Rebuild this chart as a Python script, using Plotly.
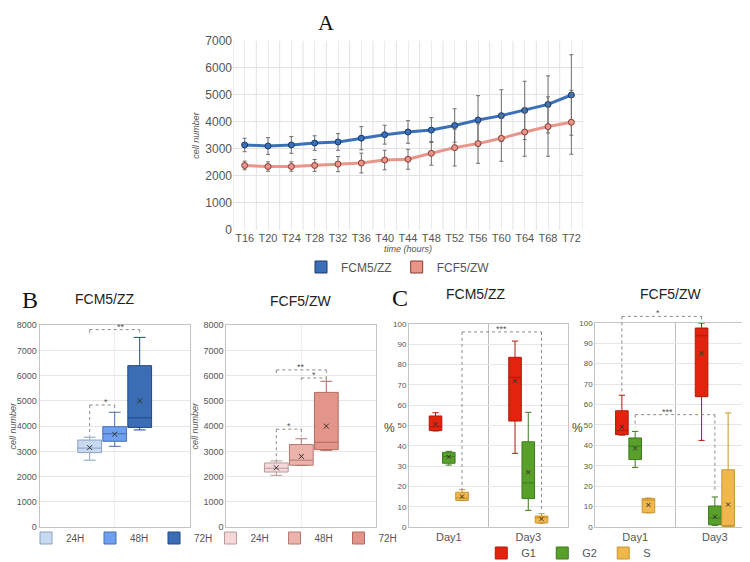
import plotly.graph_objects as go

# ---------------- data ----------------
times = ["T16", "T20", "T24", "T28", "T32", "T36", "T40", "T44", "T48", "T52", "T56", "T60", "T64", "T68", "T72"]
fcm_mean = [3150, 3110, 3150, 3220, 3260, 3400, 3530, 3630, 3700, 3870, 4075, 4235, 4430, 4650, 5000]
fcm_sd = [250, 310, 310, 270, 310, 430, 350, 420, 460, 620, 900, 960, 1080, 1060, 1490]
fcf_mean = [2390, 2350, 2350, 2390, 2440, 2480, 2590, 2620, 2840, 3050, 3200, 3395, 3630, 3830, 3990]
fcf_sd = [160, 175, 175, 220, 280, 365, 360, 370, 440, 680, 730, 850, 900, 1100, 1185]

hours = ["24H", "48H", "72H"]
# panel B  (q1, median, q3, lower whisker, upper whisker, mean)
fcm_q1 = [2950, 3400, 3950]
fcm_med = [3130, 3700, 4330]
fcm_q3 = [3450, 3980, 6400]
fcm_lo = [2650, 3200, 3850]
fcm_hi = [3560, 4550, 7520]
fcm_avg = [3150, 3680, 5000]

fcf_q1 = [2180, 2450, 3070]
fcf_med = [2330, 2650, 3360]
fcf_q3 = [2540, 3270, 5340]
fcf_lo = [2050, 2440, 3040]
fcf_hi = [2620, 3500, 5780]
fcf_avg = [2350, 2800, 4000]

# panel C
days = ["Day1", "Day3"]
phases = ["G1", "G2", "S"]
zz_q1 = {"G1": [47.5, 52.2], "G2": [31.4, 14.0], "S": [13.1, 2.0]}
zz_med = {"G1": [49.4, 73.7], "G2": [34.8, 21.7], "S": [14.3, 4.6]}
zz_q3 = {"G1": [54.7, 83.6], "G2": [36.8, 42.0], "S": [17.1, 5.4]}
zz_lo = {"G1": [47.3, 36.3], "G2": [30.5, 8.2], "S": [13.0, 1.8]}
zz_hi = {"G1": [56.3, 91.6], "G2": [37.3, 56.5], "S": [18.4, 6.6]}
zz_avg = {"G1": [50.7, 72.0], "G2": [34.5, 27.0], "S": [15.0, 4.0]}

zw_q1 = {"G1": [45.2, 63.8], "G2": [33.0, 1.1], "S": [7.0, 0.3]}
zw_med = {"G1": [47.3, 93.6], "G2": [39.6, 4.4], "S": [13.2, 0.6]}
zw_q3 = {"G1": [56.9, 97.4], "G2": [43.6, 10.3], "S": [13.9, 28.0]}
zw_lo = {"G1": [45.0, 42.4], "G2": [29.2, 0.8], "S": [6.9, 0.2]}
zw_hi = {"G1": [64.5, 99.8], "G2": [46.8, 14.7], "S": [14.2, 55.8]}
zw_avg = {"G1": [49.0, 85.0], "G2": [38.5, 5.0], "S": [10.8, 11.0]}

# significance brackets: (cat, group_a, group_b, top, leg_a, leg_b, label)
brk_bl = [(0, 0, 2, 7830, 7640, 7640, "**"), (0, 0, 1, 4840, 3600, 4530, "*")]
brk_br = [(0, 0, 2, 6230, 6020, 5900, "**"), (0, 1, 2, 5910, 5830, 5780, "*"),
          (0, 0, 1, 3880, 2630, 3600, "*")]
brk_cl = [((0, 2), (1, 2), 96.1, 18.4, 7.7, "***")]
brk_cr = [((0, 0), (1, 0), 103.1, 66.4, 101.5, "*"), ((0, 1), (1, 1), 55.0, 48.8, 18.0, "***")]

# ---------------- styling ----------------
FONT = "Liberation Sans, Arial, sans-serif"
SERIF = "Liberation Serif, Times New Roman, serif"
TXT = "#555555"
BOXGAP = 0.5
blue_fill = ["#c8d9f2", "#6e9ff0", "#3b6db5"]
blue_line = ["#8a9fc0", "#4a6fb0", "#1f4a85"]
red_fill = ["#f6d7da", "#ebb3aa", "#e3958b"]
red_line = ["#b89a9a", "#b07a72", "#b06a60"]
ph_fill = {"G1": "#e2230e", "G2": "#59a02b", "S": "#f0b84c"}
ph_line = {"G1": "#b01a08", "G2": "#3d7a1a", "S": "#c89530"}

DOM = {
    "A": ([0.300, 0.7667], [0.605, 0.9413], (0, 7000), 15),
    "BL": ([0.0422, 0.2423], [0.0765, 0.4354], (0, 8000), 1),
    "BR": ([0.2911, 0.4911], [0.0765, 0.4354], (0, 8000), 1),
    "CL": ([0.5347, 0.7467], [0.0765, 0.4377], (0, 100), 2),
    "CR": ([0.7831, 0.9956], [0.0765, 0.4400], (0, 100), 2),
}


def grp_off(i, n=3):
    return (1 - BOXGAP) * (-0.5 + (i + 0.5) / n)


def px(key, pos):
    xd, _, _, n = DOM[key]
    return xd[0] + (pos + 0.5) / n * (xd[1] - xd[0])


def py(key, v):
    _, yd, r, _ = DOM[key]
    return yd[0] + (v - r[0]) / (r[1] - r[0]) * (yd[1] - yd[0])


fig = go.Figure()

# ---------------- panel A ----------------
for name, m, sd, col, edge, lw in [("FCM5/ZZ", fcm_mean, fcm_sd, "#3a70b8", "#1a3a6a", 3),
                                   ("FCF5/ZW", fcf_mean, fcf_sd, "#e8958a", "#8a3a32", 3)]:
    fig.add_trace(go.Scatter(
        x=times, y=m, mode="lines+markers", name=name, showlegend=False,
        offsetgroup="a", xaxis="x", yaxis="y",
        line=dict(color=col, width=lw),
        marker=dict(size=6, color=col, line=dict(color=edge, width=1)),
        error_y=dict(type="data", array=sd, color="#707070", thickness=1, width=2)))
    fig.add_trace(go.Scatter(
        x=[None], y=[None], mode="markers", name=name, legend="legend",
        marker=dict(symbol="square", size=12, color=col, line=dict(color=edge, width=1))))

shapes = []
for i in range(len(times) + 1):
    shapes.append(dict(type="line", xref="x", yref="y", x0=i - 0.5, x1=i - 0.5, y0=0, y1=7000,
                       line=dict(color="#e2e2e2", width=1), layer="below"))

# ---------------- panel B ----------------
def add_b(xa, ya, title, q1, med, q3, lo, hi, avg, fills, lines, leg):
    for i, h in enumerate(hours):
        fig.add_trace(go.Box(
            x=[title], q1=[q1[i]], median=[med[i]], q3=[q3[i]],
            lowerfence=[lo[i]], upperfence=[hi[i]], name=h, offsetgroup=h,
            fillcolor=fills[i], line=dict(color=lines[i], width=1),
            xaxis=xa, yaxis=ya, legend=leg, boxpoints=False))
    for i, h in enumerate(hours):
        fig.add_trace(go.Scatter(
            x=[title], y=[avg[i]], mode="markers", offsetgroup=h, showlegend=False,
            xaxis=xa, yaxis=ya,
            marker=dict(symbol="x-thin", size=5, line=dict(color="#333333", width=1))))


add_b("x2", "y2", "FCM5/ZZ", fcm_q1, fcm_med, fcm_q3, fcm_lo, fcm_hi, fcm_avg,
      blue_fill, blue_line, "legend2")
add_b("x3", "y3", "FCF5/ZW", fcf_q1, fcf_med, fcf_q3, fcf_lo, fcf_hi, fcf_avg,
      red_fill, red_line, "legend3")

# ---------------- panel C ----------------
def add_c(xa, ya, q1, med, q3, lo, hi, avg, show):
    for p in phases:
        fig.add_trace(go.Box(
            x=days, q1=q1[p], median=med[p], q3=q3[p], lowerfence=lo[p], upperfence=hi[p],
            name=p, offsetgroup=p, fillcolor=ph_fill[p], line=dict(color=ph_line[p], width=1),
            xaxis=xa, yaxis=ya, legend="legend4", showlegend=show, boxpoints=False))
    for p in phases:
        fig.add_trace(go.Scatter(
            x=days, y=avg[p], mode="markers", offsetgroup=p, showlegend=False,
            xaxis=xa, yaxis=ya,
            marker=dict(symbol="x-thin", size=4, line=dict(color="#333333", width=1))))


add_c("x4", "y4", zz_q1, zz_med, zz_q3, zz_lo, zz_hi, zz_avg, True)
add_c("x5", "y5", zw_q1, zw_med, zw_q3, zw_lo, zw_hi, zw_avg, False)

# ---------------- brackets ----------------
annotations = []
BR_LINE = dict(color="#8a8a8a", width=1, dash="dot")


def bracket(key, xa_pos, xb_pos, top, la, lb, label):
    xa_p, xb_p = px(key, xa_pos), px(key, xb_pos)
    yt = py(key, top)
    shapes.append(dict(type="line", xref="paper", yref="paper", x0=xa_p, x1=xb_p, y0=yt, y1=yt, line=BR_LINE))
    shapes.append(dict(type="line", xref="paper", yref="paper", x0=xa_p, x1=xa_p, y0=yt, y1=py(key, la), line=BR_LINE))
    shapes.append(dict(type="line", xref="paper", yref="paper", x0=xb_p, x1=xb_p, y0=yt, y1=py(key, lb), line=BR_LINE))
    annotations.append(dict(xref="paper", yref="paper", x=(xa_p + xb_p) / 2, y=yt, yanchor="bottom",
                            text=label, showarrow=False, font=dict(size=9, color=TXT, family=FONT), yshift=-4))


for c, a, b, t, la, lb, lab in brk_bl:
    bracket("BL", c + grp_off(a), c + grp_off(b), t, la, lb, lab)
for c, a, b, t, la, lb, lab in brk_br:
    bracket("BR", c + grp_off(a), c + grp_off(b), t, la, lb, lab)
for (ca, ga), (cb, gb), t, la, lb, lab in brk_cl:
    bracket("CL", ca + grp_off(ga), cb + grp_off(gb), t, la, lb, lab)
for (ca, ga), (cb, gb), t, la, lb, lab in brk_cr:
    bracket("CR", ca + grp_off(ga), cb + grp_off(gb), t, la, lb, lab)

# ---------------- titles / letters ----------------
def txt(x, y, s, size, family=FONT, color="#222222"):
    annotations.append(dict(xref="paper", yref="paper", x=x / 750, y=1 - y / 562, text=s, showarrow=False,
                            font=dict(size=size, family=family, color=color),
                            xanchor="center", yanchor="middle"))


txt(318, 15, "A", 22, SERIF, "#111111")
txt(22, 292, "B", 24, SERIF, "#111111")
txt(392, 290, "C", 24, SERIF, "#111111")
txt(97, 291, "FCM5/ZZ", 14)
txt(292, 293, "FCF5/ZW", 14)
txt(468, 286, "FCM5/ZZ", 14)
txt(662, 286, "FCF5/ZW", 14)
txt(381, 420, "%", 12, FONT, "#444444")
txt(569, 420, "%", 12, FONT, "#444444")

# ---------------- axes ----------------
tickf = lambda s: dict(size=s, color=TXT, family=FONT)
GRID = "#e6e6e6"
FRAME = "#c4c4c4"
NOAM = dict(automargin=False)
CLEAR = "rgba(255,255,255,0)"

layout = dict(
    width=750, height=562, margin=dict(l=0, r=0, t=0, b=0, autoexpand=False),
    paper_bgcolor="white", plot_bgcolor="white",
    font=dict(family=FONT, color=TXT),
    boxmode="group", boxgap=BOXGAP, boxgroupgap=0.05,
    scattermode="group", scattergap=BOXGAP,
    shapes=shapes, annotations=annotations,
    xaxis=dict(domain=DOM["A"][0], anchor="y", type="category", tickfont=tickf(11),
               showgrid=True, gridcolor="#ececec", range=[-0.5, 14.5], **NOAM,
               title=dict(text="<i>time (hours)</i>", font=tickf(9), standoff=0)),
    yaxis=dict(domain=DOM["A"][1], anchor="x", range=[0, 7000], dtick=1000, tickfont=tickf(12),
               gridcolor="#e2e2e2", zeroline=False, **NOAM,
               title=dict(text="<i>cell number</i>", font=tickf(9), standoff=4)),
    xaxis2=dict(domain=DOM["BL"][0], anchor="y2", type="category", showticklabels=False,
                showgrid=True, gridcolor="#efefef", range=[-0.5, 0.5], **NOAM,
                showline=True, mirror=True, linecolor=FRAME),
    yaxis2=dict(domain=DOM["BL"][1], anchor="x2", range=[0, 8000], dtick=1000, tickfont=tickf(9),
                gridcolor=GRID, zeroline=False, showline=True, mirror=True, linecolor=FRAME, **NOAM,
                title=dict(text="<i>cell number</i>", font=tickf(9), standoff=3)),
    xaxis3=dict(domain=DOM["BR"][0], anchor="y3", type="category", showticklabels=False,
                showgrid=True, gridcolor="#efefef", range=[-0.5, 0.5], **NOAM,
                showline=True, mirror=True, linecolor=FRAME),
    yaxis3=dict(domain=DOM["BR"][1], anchor="x3", range=[0, 8000], dtick=1000, tickfont=tickf(9),
                gridcolor=GRID, zeroline=False, showline=True, mirror=True, linecolor=FRAME, **NOAM,
                title=dict(text="<i>cell number</i>", font=tickf(9), standoff=3)),
    xaxis4=dict(domain=DOM["CL"][0], anchor="y4", type="category", tickfont=tickf(11),
                showgrid=True, tickson="boundaries", ticklen=0, gridcolor="#bdbdbd", **NOAM,
                range=[-0.5, 1.5], showline=True, mirror=True, linecolor=FRAME),
    yaxis4=dict(domain=DOM["CL"][1], anchor="x4", range=[0, 100], dtick=10, tickfont=tickf(8),
                gridcolor=GRID, zeroline=False, showline=True, mirror=True, linecolor=FRAME, **NOAM),
    xaxis5=dict(domain=DOM["CR"][0], anchor="y5", type="category", tickfont=tickf(11),
                showgrid=True, tickson="boundaries", ticklen=0, gridcolor="#bdbdbd", **NOAM,
                range=[-0.5, 1.5], showline=True, mirror=True, linecolor=FRAME),
    yaxis5=dict(domain=DOM["CR"][1], anchor="x5", range=[0, 100], dtick=10, tickfont=tickf(8),
                gridcolor=GRID, zeroline=False, showline=True, mirror=True, linecolor=FRAME, **NOAM),
    legend=dict(orientation="h", x=0.52, y=1 - 259 / 562, xanchor="center", yanchor="middle",
                font=tickf(12), bgcolor=CLEAR),
    legend2=dict(orientation="h", x=0.152, y=1 - 530 / 562, xanchor="center", yanchor="middle",
                 font=tickf(10), entrywidth=19, bgcolor=CLEAR),
    legend3=dict(orientation="h", x=0.398, y=1 - 530 / 562, xanchor="center", yanchor="middle",
                 font=tickf(10), entrywidth=19, bgcolor=CLEAR),
    legend4=dict(orientation="h", x=0.753, y=1 - 545 / 562, xanchor="center", yanchor="middle",
                 font=tickf(11), entrywidth=16, bgcolor=CLEAR),
)
fig.update_layout(**layout)
fig.write_html("out.html")
